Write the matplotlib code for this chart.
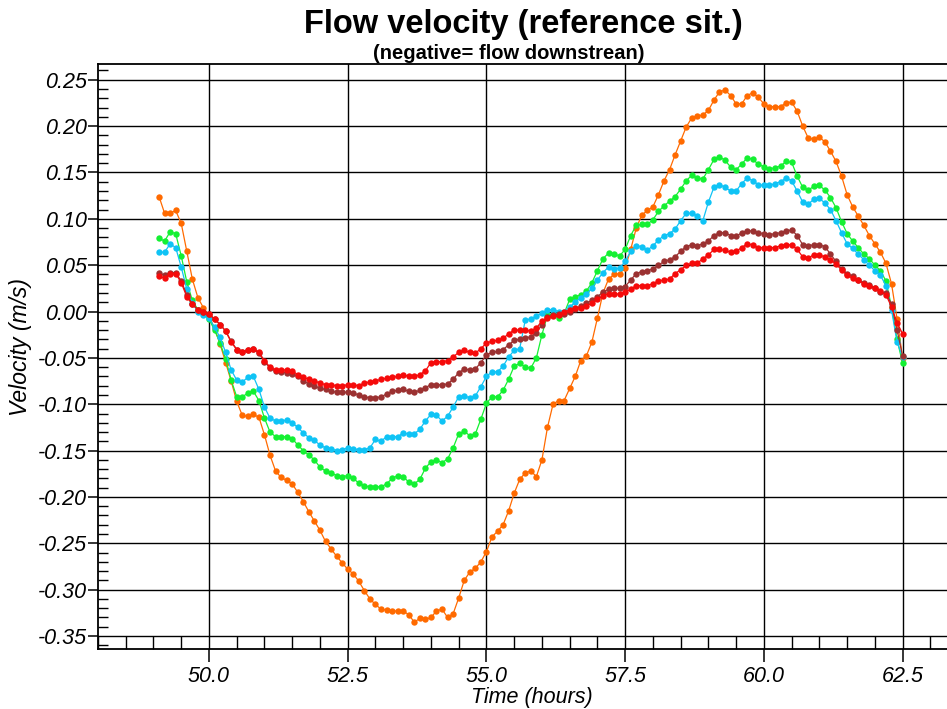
import numpy as np
import matplotlib
matplotlib.use("Agg")
import matplotlib.pyplot as plt
from matplotlib.ticker import MultipleLocator, FormatStrFormatter

plt.rcParams["font.family"] = ["Liberation Sans", "DejaVu Sans"]
plt.rcParams["axes.unicode_minus"] = False

# one sample every 0.1 h, 49.1 ... 62.5
time_h = np.arange(491, 626) / 10.0

vel_orange = [
    0.124, 0.106, 0.106, 0.109, 0.095, 0.065, 0.035, 0.015, 0.004, -0.005,
    -0.018, -0.035, -0.055, -0.075, -0.097, -0.112, -0.113, -0.111, -0.114, -0.133,
    -0.155, -0.172, -0.179, -0.182, -0.186, -0.195, -0.205, -0.216, -0.226, -0.236,
    -0.248, -0.256, -0.264, -0.271, -0.278, -0.283, -0.291, -0.301, -0.310, -0.316,
    -0.321, -0.322, -0.323, -0.323, -0.323, -0.327, -0.335, -0.331, -0.332, -0.330,
    -0.323, -0.321, -0.330, -0.326, -0.309, -0.290, -0.281, -0.277, -0.270, -0.259,
    -0.243, -0.237, -0.230, -0.215, -0.196, -0.181, -0.174, -0.172, -0.178, -0.160,
    -0.125, -0.100, -0.096, -0.096, -0.083, -0.070, -0.053, -0.048, -0.033, -0.007,
    0.020, 0.035, 0.040, 0.041, 0.047, 0.067, 0.090, 0.104, 0.109, 0.113,
    0.126, 0.141, 0.153, 0.169, 0.184, 0.199, 0.209, 0.211, 0.212, 0.217,
    0.228, 0.237, 0.239, 0.233, 0.224, 0.224, 0.233, 0.236, 0.231, 0.224,
    0.221, 0.221, 0.221, 0.225, 0.226, 0.216, 0.200, 0.187, 0.186, 0.188,
    0.183, 0.173, 0.162, 0.146, 0.126, 0.113, 0.103, 0.093, 0.082, 0.073,
    0.064, 0.052, 0.030, -0.008, -0.050,
]

vel_green = [
    0.079, 0.076, 0.086, 0.084, 0.060, 0.032, 0.012, 0.002, -0.002, -0.008,
    -0.020, -0.034, -0.051, -0.074, -0.092, -0.092, -0.088, -0.086, -0.096, -0.115,
    -0.130, -0.135, -0.135, -0.135, -0.137, -0.144, -0.150, -0.155, -0.160, -0.168,
    -0.172, -0.174, -0.177, -0.178, -0.177, -0.180, -0.185, -0.188, -0.189, -0.189,
    -0.189, -0.186, -0.180, -0.177, -0.178, -0.184, -0.186, -0.181, -0.169, -0.162,
    -0.160, -0.163, -0.159, -0.147, -0.132, -0.129, -0.134, -0.132, -0.116, -0.099,
    -0.092, -0.092, -0.085, -0.073, -0.059, -0.056, -0.060, -0.061, -0.050, -0.025,
    -0.004, -0.003, -0.007, -0.002, 0.013, 0.016, 0.018, 0.022, 0.031, 0.044,
    0.057, 0.063, 0.062, 0.060, 0.067, 0.082, 0.093, 0.094, 0.094, 0.099,
    0.108, 0.114, 0.119, 0.124, 0.132, 0.141, 0.147, 0.144, 0.143, 0.153,
    0.164, 0.167, 0.163, 0.156, 0.153, 0.159, 0.166, 0.164, 0.159, 0.156,
    0.154, 0.155, 0.157, 0.162, 0.161, 0.146, 0.134, 0.131, 0.135, 0.136,
    0.131, 0.123, 0.112, 0.097, 0.084, 0.076, 0.069, 0.062, 0.057, 0.050,
    0.044, 0.033, 0.005, -0.030, -0.056,
]

vel_cyan = [
    0.064, 0.064, 0.073, 0.069, 0.048, 0.024, 0.009, 0.000, -0.004, -0.007,
    -0.017, -0.028, -0.044, -0.063, -0.074, -0.076, -0.071, -0.070, -0.084, -0.103,
    -0.115, -0.118, -0.118, -0.117, -0.120, -0.125, -0.131, -0.136, -0.139, -0.144,
    -0.147, -0.148, -0.150, -0.149, -0.147, -0.148, -0.149, -0.149, -0.147, -0.138,
    -0.140, -0.135, -0.135, -0.135, -0.131, -0.132, -0.132, -0.127, -0.118, -0.111,
    -0.112, -0.118, -0.113, -0.103, -0.092, -0.091, -0.093, -0.091, -0.081, -0.070,
    -0.065, -0.065, -0.059, -0.049, -0.042, -0.040, -0.009, -0.008, -0.005, -0.002,
    0.002, 0.002, 0.000, 0.000, 0.005, 0.010, 0.015, 0.019, 0.025, 0.034,
    0.042, 0.048, 0.046, 0.047, 0.054, 0.065, 0.071, 0.070, 0.066, 0.071,
    0.077, 0.082, 0.084, 0.089, 0.098, 0.106, 0.106, 0.103, 0.098, 0.118,
    0.134, 0.137, 0.134, 0.130, 0.130, 0.138, 0.144, 0.141, 0.137, 0.136,
    0.136, 0.138, 0.140, 0.144, 0.141, 0.130, 0.118, 0.116, 0.121, 0.122,
    0.117, 0.110, 0.098, 0.085, 0.073, 0.068, 0.062, 0.056, 0.050, 0.044,
    0.039, 0.028, 0.002, -0.033, -0.049,
]

vel_brown = [
    0.042, 0.039, 0.042, 0.042, 0.033, 0.018, 0.008, 0.002, 0.000, -0.003,
    -0.008, -0.014, -0.021, -0.032, -0.041, -0.044, -0.042, -0.040, -0.045, -0.054,
    -0.061, -0.064, -0.065, -0.066, -0.067, -0.070, -0.075, -0.078, -0.080, -0.083,
    -0.084, -0.086, -0.087, -0.087, -0.087, -0.088, -0.090, -0.092, -0.093, -0.093,
    -0.092, -0.089, -0.086, -0.085, -0.084, -0.086, -0.087, -0.085, -0.082, -0.079,
    -0.079, -0.079, -0.078, -0.073, -0.066, -0.062, -0.063, -0.062, -0.055, -0.047,
    -0.044, -0.043, -0.041, -0.036, -0.031, -0.030, -0.029, -0.027, -0.023, -0.014,
    -0.006, -0.004, -0.003, -0.003, 0.000, 0.003, 0.006, 0.009, 0.012, 0.016,
    0.021, 0.024, 0.025, 0.025, 0.027, 0.034, 0.041, 0.043, 0.044, 0.046,
    0.050, 0.054, 0.056, 0.059, 0.065, 0.070, 0.072, 0.071, 0.073, 0.076,
    0.082, 0.085, 0.085, 0.082, 0.081, 0.085, 0.087, 0.087, 0.085, 0.084,
    0.083, 0.084, 0.085, 0.087, 0.088, 0.082, 0.072, 0.071, 0.072, 0.072,
    0.070, 0.062, 0.054, 0.046, 0.041, 0.038, 0.034, 0.031, 0.029, 0.025,
    0.021, 0.020, 0.008, -0.020, -0.048,
]

vel_red = [
    0.038, 0.036, 0.041, 0.041, 0.031, 0.016, 0.008, 0.002, -0.001, -0.003,
    -0.008, -0.014, -0.021, -0.033, -0.041, -0.044, -0.041, -0.040, -0.044, -0.053,
    -0.060, -0.063, -0.063, -0.063, -0.064, -0.068, -0.071, -0.073, -0.075, -0.077,
    -0.079, -0.079, -0.080, -0.080, -0.079, -0.079, -0.080, -0.077, -0.076, -0.075,
    -0.073, -0.072, -0.071, -0.070, -0.068, -0.070, -0.070, -0.068, -0.064, -0.055,
    -0.054, -0.054, -0.053, -0.049, -0.044, -0.042, -0.044, -0.045, -0.040, -0.034,
    -0.032, -0.031, -0.029, -0.024, -0.020, -0.020, -0.020, -0.021, -0.018, -0.010,
    -0.007, -0.005, -0.004, -0.001, 0.002, 0.004, 0.004, 0.006, 0.009, 0.013,
    0.017, 0.019, 0.019, 0.019, 0.021, 0.024, 0.028, 0.028, 0.028, 0.030,
    0.033, 0.034, 0.035, 0.041, 0.045, 0.050, 0.052, 0.052, 0.057, 0.061,
    0.067, 0.067, 0.066, 0.064, 0.065, 0.069, 0.073, 0.072, 0.069, 0.069,
    0.069, 0.069, 0.071, 0.072, 0.072, 0.067, 0.059, 0.058, 0.061, 0.061,
    0.059, 0.056, 0.051, 0.045, 0.039, 0.036, 0.034, 0.030, 0.028, 0.025,
    0.022, 0.018, 0.005, -0.012, -0.024,
]

# drawing order: back to front
series = [
    (vel_orange, "#ff6a00"),
    (vel_green, "#14f032"),
    (vel_cyan, "#0fc3f5"),
    (vel_brown, "#9b3131"),
    (vel_red, "#f50a0a"),
]

fig = plt.figure(figsize=(9.47, 7.09), dpi=100)
ax = fig.add_axes([98 / 947, 1 - 649 / 709, 849 / 947, 585 / 709])

for vals, col in series:
    ax.plot(time_h, vals, "-o", color=col, lw=0.9, ms=4.6, mew=0)

ax.set_xlim(48.0, 63.3)
ax.set_ylim(-0.364, 0.267)

ax.xaxis.set_major_locator(MultipleLocator(2.5))
ax.xaxis.set_minor_locator(MultipleLocator(0.5))
ax.yaxis.set_major_locator(MultipleLocator(0.05))
ax.yaxis.set_minor_locator(MultipleLocator(0.01))
ax.xaxis.set_major_formatter(FormatStrFormatter("%.1f"))
ax.yaxis.set_major_formatter(FormatStrFormatter("%.2f"))

ax.set_axisbelow(True)
ax.grid(True, which="major", color="black", lw=1.0)

ax.tick_params(axis="x", which="major", direction="out", length=9.5, width=1.1,
               labelsize=15.5, pad=3)
ax.tick_params(axis="x", which="minor", direction="in", length=9.5, width=1.0)
ax.tick_params(axis="y", which="major", direction="out", length=7.5, width=1.1,
               labelsize=15.5, pad=0.5)
ax.tick_params(axis="y", which="minor", direction="in", length=7.5, width=1.0)

for lab in ax.get_xticklabels() + ax.get_yticklabels():
    lab.set_fontstyle("italic")

for side in ["left", "bottom", "top"]:
    ax.spines[side].set_linewidth(1.3)
ax.spines["right"].set_visible(False)

fig.text(0.553, 0.965, "Flow velocity (reference sit.)", ha="center", va="center",
         fontsize=23.5, fontweight="bold")
fig.text(0.5375, 0.925, "(negative= flow downstrean)", ha="center", va="center",
         fontsize=14.5, fontweight="bold")
fig.text(0.022, 0.51, "Velocity (m/s)", rotation=90, ha="center", va="center",
         fontsize=16.5, fontstyle="italic")
fig.text(0.562, 0.016, "Time (hours)", ha="center", va="center",
         fontsize=15.5, fontstyle="italic")

fig.savefig("out.png", dpi=100)
